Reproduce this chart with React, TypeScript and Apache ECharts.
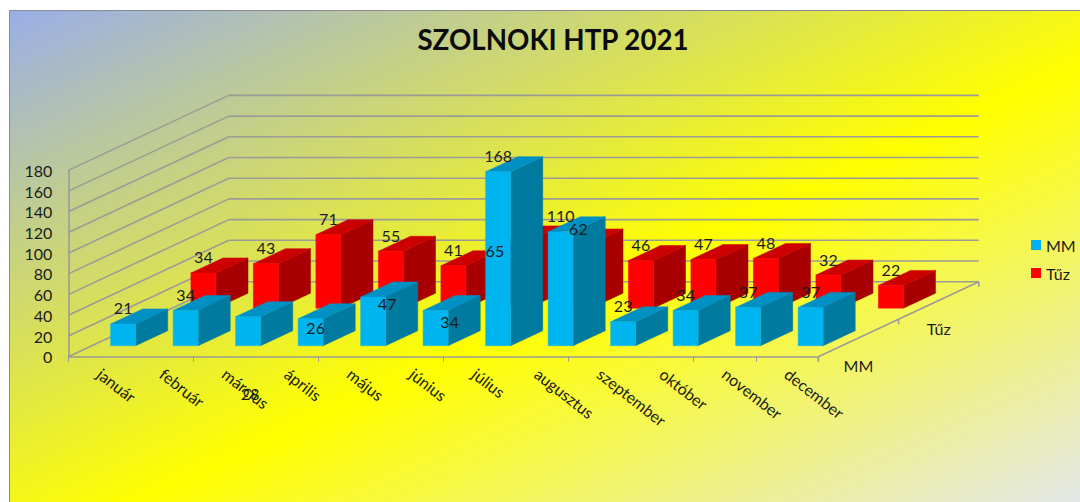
import React, { useEffect, useRef } from "react";
import * as echarts from "echarts";

const titleText = "SZOLNOKI HTP 2021";
const months = ["január","február","március","április","május","június","július","augusztus","szeptember","október","november","december"];
const mmValues = [21,34,28,26,47,34,168,110,23,34,37,37];
const tuzValues = [34,43,71,55,41,65,62,46,47,48,32,22];
const rowNames = ["MM","Tűz"];
const valueTicks = [0,20,40,60,80,100,120,140,160,180];
const depthTicks = [0,0.5,1];

// label displacement from the front-top centre of each bar, where the source moved it
const DEF: [number, number] = [0,-16];
const mmLabelOffsets: [number, number][] = [DEF,DEF,[2,77],[5,9],[14,6],[14,10.7],DEF,DEF,DEF,DEF,DEF,DEF];
const tuzLabelOffsets: [number, number][] = [DEF,DEF,DEF,DEF,DEF,[-21,10],DEF,DEF,DEF,DEF,DEF,DEF];

const FONT = "Lato, 'Open Sans', sans-serif";
const TEXT_COLOR = "#1c1c1c";
const DEPTH_X = 160.5;
const DEPTH_Y = -75;
const GRID_COLOR = "#9c9c96";
const GRID_WIDTH = 1.6;
const proj = (p: number[], d: number) => [p[0] + d * DEPTH_X, p[1] + d * DEPTH_Y];

const makeBars = (row: number, front: string, side: string, top: string) => (params: any, api: any) => {
  const cat = api.value(0);
  const val = api.value(1);
  const c = api.coord([cat, val]);
  const b = api.coord([cat, 0]);
  const w = api.size([1, 0])[0] * 0.4;
  const d0 = row * 0.5 + 0.147;
  const d1 = d0 + 0.2;
  const l = c[0] - w / 2;
  const r = c[0] + w / 2;
  const ft = [[l, c[1]], [r, c[1]], [r, b[1]], [l, b[1]]].map((p) => proj(p, d0));
  const tr = proj([r, c[1]], d0), br = proj([r, b[1]], d0);
  const tr2 = proj([r, c[1]], d1), br2 = proj([r, b[1]], d1), tl2 = proj([l, c[1]], d1);
  const tl = proj([l, c[1]], d0);
  const face = (points: number[][], color: string) => ({
    type: "polygon",
    shape: { points },
    style: { fill: color, stroke: color, lineWidth: 0.5 },
  });
  return {
    type: "group",
    children: [face([tr, tr2, br2, br], side), face([tl, tl2, tr2, tr], top), face(ft, front)],
  };
};

const makeLabels = (row: number, offsets: [number, number][]) => (params: any, api: any) => {
  const cat = api.value(0);
  const val = api.value(1);
  const c = proj(api.coord([cat, val]), row * 0.5 + 0.147);
  const o = offsets[cat];
  return {
    type: "text",
    style: {
      x: c[0] + o[0], y: c[1] + o[1], text: String(val),
      textAlign: "center", textVerticalAlign: "middle",
      font: `16px ${FONT}`, fill: TEXT_COLOR,
    },
  };
};

const line = (a: number[], b: number[]) => ({
  type: "line",
  shape: { x1: a[0], y1: a[1], x2: b[0], y2: b[1] },
  style: { stroke: GRID_COLOR, lineWidth: GRID_WIDTH },
});

export default function App() {
  const ref = useRef<HTMLDivElement>(null);
  useEffect(() => {
    document.body.style.margin = "0";
    document.body.style.overflow = "hidden";
    const chart = echarts.init(ref.current!, undefined, { renderer: "svg" });
    const catData = months.map((_, i) => i);
    chart.setOption({
      animation: false,
      title: {
        text: titleText, left: 548, top: 20, textAlign: "center",
        textStyle: { fontFamily: FONT, fontWeight: "bold", fontSize: 27.7, color: "#0c0c0c" },
      },
      legend: {
        data: rowNames, orient: "vertical", left: 1026, top: 232,
        itemWidth: 10, itemHeight: 10, itemGap: 12, icon: "rect", selectedMode: false,
        textStyle: { fontFamily: FONT, fontSize: 16, color: TEXT_COLOR },
      },
      graphic: [{
        type: "rect", z: -10, silent: true,
        shape: { x: 9.5, y: 10.5, width: 1080, height: 500 },
        style: {
          stroke: "#8a8a90", lineWidth: 1,
          fill: new echarts.graphic.LinearGradient(0, 0, 1, 1, [
            { offset: 0, color: "#9aaee8" },
            { offset: 0.55, color: "#ffff00" },
            { offset: 1, color: "#e2e6ee" },
          ]),
        },
      }],
      grid: { left: 68.3, right: 1080 - 818.3, top: 170.4, bottom: 502 - 356.7 },
      xAxis: {
        type: "category", data: months, boundaryGap: true,
        axisLine: { lineStyle: { color: GRID_COLOR, width: GRID_WIDTH } },
        axisTick: { show: true, interval: 1, length: 5, lineStyle: { color: GRID_COLOR, width: 1 } },
        axisLabel: { interval: 0, rotate: -38, margin: 15, fontFamily: FONT, fontSize: 16, color: TEXT_COLOR },
      },
      yAxis: {
        type: "value", min: 0, max: 180, interval: 20,
        splitLine: { show: false },
        axisLine: { show: true, lineStyle: { color: GRID_COLOR, width: GRID_WIDTH } },
        axisTick: { show: false },
        axisLabel: { margin: 16, fontFamily: FONT, fontSize: 16, color: TEXT_COLOR },
      },
      series: [
        {
          type: "custom", name: "walls", silent: true,
          data: valueTicks.map((v) => [0, v]),
          renderItem: (params: any, api: any) => {
            const v = api.value(1);
            const y = api.coord([0, v])[1];
            const fl = [68.3, y];
            const bl = proj(fl, 1);
            const br = proj([818.3, y], 1);
            return { type: "group", children: [line(fl, bl), line(bl, br)] };
          },
        },
        {
          type: "custom", name: "depth", silent: true,
          data: depthTicks.map((d) => [11, 0, d]),
          renderItem: (params: any, api: any) => {
            const d = api.value(2);
            const y = api.coord([0, 0])[1];
            const a = proj([818.3, y], d);
            const children: any[] = [line(a, [a[0], a[1] + 5])];
            if (d > 0) children.push(line(proj([818.3, y], d - 0.5), a));
            if (d < 1) {
              const m = proj([818.3, y], d + 0.25);
              children.push({
                type: "text",
                style: {
                  x: m[0], y: m[1] + 28, text: rowNames[d === 0 ? 0 : 1],
                  textAlign: "center", textVerticalAlign: "middle",
                  font: `16px ${FONT}`, fill: TEXT_COLOR,
                },
              });
            }
            return { type: "group", children };
          },
        },
        {
          type: "custom", name: "Tűz", color: "#ff0000", itemStyle: { color: "#ff0000" },
          data: catData.map((i) => [i, tuzValues[i]]),
          renderItem: makeBars(1, "#ff0000", "#a80000", "#cc0000"),
        },
        {
          type: "custom", name: "MM", color: "#00b0f0", itemStyle: { color: "#00b0f0" },
          data: catData.map((i) => [i, mmValues[i]]),
          renderItem: makeBars(0, "#00b4f0", "#007a9e", "#0090c4"),
        },
        {
          type: "custom", name: "tuzLabels", silent: true,
          data: catData.map((i) => [i, tuzValues[i]]),
          renderItem: makeLabels(1, tuzLabelOffsets),
        },
        {
          type: "custom", name: "mmLabels", silent: true,
          data: catData.map((i) => [i, mmValues[i]]),
          renderItem: makeLabels(0, mmLabelOffsets),
        },
      ],
    });
    return () => chart.dispose();
  }, []);
  return <div ref={ref} style={{ position: "absolute", left: 0, top: 0, width: 1080, height: 502 }} />;
}
